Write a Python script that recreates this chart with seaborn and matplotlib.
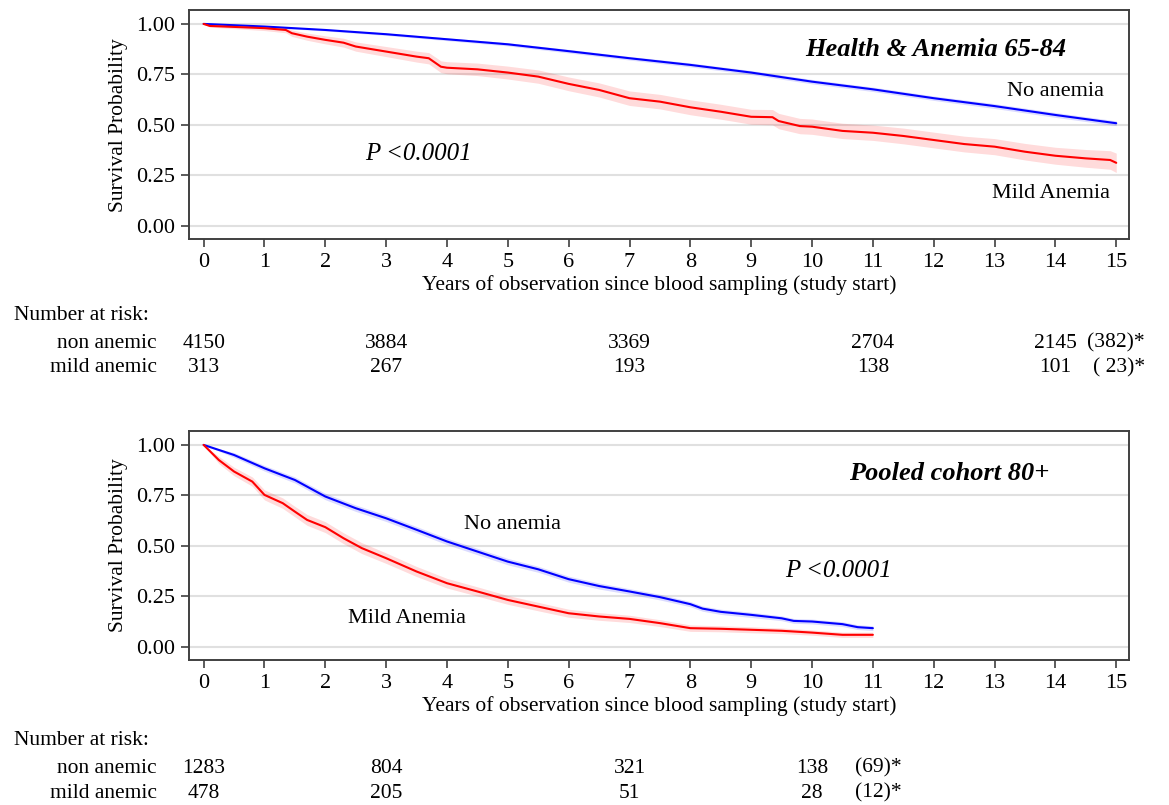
import matplotlib
matplotlib.use("Agg")
import matplotlib.pyplot as plt
import matplotlib.transforms as mtransforms
import numpy as np
import pandas as pd
import seaborn as sns

# ---- Panel A: Health & Anemia 65-84 ----
a_no_t = [0, 1, 2, 3, 4, 5, 6, 7, 8, 9, 10, 11, 12, 13, 14, 15]
a_no_s = [1.0, 0.987, 0.970, 0.949, 0.924, 0.899, 0.865, 0.830, 0.797, 0.759,
          0.714, 0.676, 0.632, 0.593, 0.549, 0.508]
a_no_ci = [0.0, 0.004, 0.005, 0.006, 0.007, 0.008, 0.009, 0.009, 0.010, 0.010,
           0.011, 0.011, 0.011, 0.012, 0.012, 0.012]

a_mild_t = [0, 0.1, 1.0, 1.35, 1.45, 1.7, 2.0, 2.3, 2.5, 3.0, 3.5, 3.7, 3.9, 4.0,
            4.5, 5.0, 5.5, 6.0, 6.5, 7.0, 7.5, 8.0, 8.5, 9.0, 9.35, 9.45, 9.8,
            10.0, 10.5, 11.0, 11.5, 12.0, 12.5, 13.0, 13.5, 14.0, 14.5, 14.9, 15.0]
a_mild_s = [1.0, 0.990, 0.979, 0.970, 0.954, 0.937, 0.921, 0.907, 0.888, 0.863,
            0.838, 0.830, 0.788, 0.783, 0.775, 0.759, 0.739, 0.703, 0.673, 0.632,
            0.615, 0.587, 0.565, 0.540, 0.538, 0.519, 0.494, 0.491, 0.470, 0.461,
            0.445, 0.425, 0.405, 0.392, 0.367, 0.347, 0.334, 0.326, 0.312]
a_mild_ci = [0.0, 0.006, 0.012, 0.014, 0.016, 0.018, 0.020, 0.022, 0.023, 0.025,
             0.027, 0.028, 0.029, 0.030, 0.031, 0.032, 0.033, 0.034, 0.035, 0.036,
             0.036, 0.037, 0.037, 0.037, 0.038, 0.038, 0.038, 0.038, 0.038, 0.038,
             0.039, 0.039, 0.039, 0.040, 0.041, 0.042, 0.044, 0.046, 0.048]

# ---- Panel B: Pooled cohort 80+ ----
b_no_t = [0, 0.5, 1.0, 1.5, 2.0, 2.5, 3.0, 3.5, 4.0, 4.5, 5.0, 5.5, 6.0, 6.5, 7.0,
          7.5, 8.0, 8.2, 8.5, 9.0, 9.5, 9.7, 10.0, 10.5, 10.75, 11.0]
b_no_s = [1.0, 0.950, 0.884, 0.826, 0.744, 0.686, 0.636, 0.579, 0.521, 0.471,
          0.421, 0.383, 0.334, 0.300, 0.273, 0.245, 0.210, 0.188, 0.172, 0.157,
          0.140, 0.127, 0.124, 0.111, 0.096, 0.091]
b_no_ci = [0.0, 0.012, 0.014, 0.015, 0.016, 0.016, 0.016, 0.016, 0.016, 0.016,
           0.016, 0.015, 0.015, 0.015, 0.014, 0.014, 0.013, 0.013, 0.013, 0.013,
           0.012, 0.012, 0.012, 0.012, 0.012, 0.012]

b_mild_t = [0, 0.25, 0.5, 0.8, 1.0, 1.3, 1.5, 1.7, 2.0, 2.3, 2.6, 3.0, 3.5, 4.0,
            4.5, 5.0, 5.5, 6.0, 6.5, 7.0, 7.5, 8.0, 8.5, 9.0, 9.5, 10.0, 10.5, 11.0]
b_mild_s = [1.0, 0.925, 0.868, 0.818, 0.752, 0.711, 0.669, 0.628, 0.592, 0.537,
            0.488, 0.438, 0.372, 0.314, 0.273, 0.231, 0.198, 0.165, 0.149, 0.137,
            0.116, 0.091, 0.088, 0.083, 0.078, 0.069, 0.058, 0.058]
b_mild_ci = [0.0, 0.018, 0.021, 0.023, 0.025, 0.026, 0.026, 0.027, 0.027, 0.027,
             0.027, 0.026, 0.025, 0.024, 0.023, 0.022, 0.021, 0.020, 0.019, 0.018,
             0.017, 0.016, 0.015, 0.015, 0.014, 0.013, 0.013, 0.013]

# ---- Number at risk tables ----
a_risk_years = [0, 3, 7, 11, 14]
a_risk_non = ["4150", "3884", "3369", "2704", "2145"]
a_risk_mild = ["313", "267", "193", "138", "101"]
a_risk_tail = ["(382)*", "( 23)*"]

b_risk_years = [0, 3, 7, 10]
b_risk_non = ["1283", "804", "321", "138"]
b_risk_mild = ["478", "205", "51", "28"]
b_risk_tail = ["(69)*", "(12)*"]

sns.set_style("white")
plt.rcParams["font.family"] = ["Liberation Serif", "DejaVu Serif"]
plt.rcParams["text.color"] = "black"
plt.rcParams["axes.labelcolor"] = "black"
plt.rcParams["xtick.color"] = "black"
plt.rcParams["ytick.color"] = "black"

BLUE = "#0000ff"
RED = "#ff0000"
fig = plt.figure(figsize=(11.69, 8.05), dpi=100)


def km_panel(ax, no_t, no_s, no_ci, mild_t, mild_s, mild_ci):
    for t, s, ci, col in [(no_t, no_s, no_ci, BLUE), (mild_t, mild_s, mild_ci, RED)]:
        s = np.array(s)
        ci = np.array(ci)
        ax.fill_between(t, s - ci, s + ci, color=col, alpha=0.14, linewidth=0)
        df = pd.DataFrame({"t": t, "s": s})
        sns.lineplot(data=df, x="t", y="s", ax=ax, color=col, linewidth=1.5,
                     estimator=None, sort=False)
    ax.set_xlim(-0.24, 15.21)
    ax.set_ylim(-0.067, 1.069)
    ax.set_xticks(range(16))
    ax.set_yticks([0, 0.25, 0.5, 0.75, 1.0])
    ax.set_yticklabels(["0.00", "0.25", "0.50", "0.75", "1.00"])
    ax.yaxis.grid(True, color="#e0e0e0", linewidth=1.5)
    ax.set_axisbelow(True)
    for sp in ax.spines.values():
        sp.set_color("#404040")
        sp.set_linewidth(1.4)
    ax.tick_params(axis="both", direction="out", length=6, width=1.2,
                   color="#404040", labelcolor="black", labelsize=16,
                   bottom=True, left=True, pad=4)
    ax.set_xlabel("Years of observation since blood sampling (study start)",
                  fontsize=15.5, labelpad=2)
    ax.set_ylabel("Survival Probability", fontsize=15.5, labelpad=6)


def risk_table(ax, years, non, mild, tail, tail_x, y0):
    tr = mtransforms.blended_transform_factory(ax.transData, fig.transFigure)
    fs = 15.5
    fig.text(14 / 1169, 1 - y0 / 805, "Number at risk:", fontsize=fs,
             ha="left", va="center")
    fig.text(157 / 1169, 1 - (y0 + 28) / 805, "non anemic", fontsize=fs,
             ha="right", va="center")
    fig.text(157 / 1169, 1 - (y0 + 53) / 805, "mild anemic", fontsize=fs,
             ha="right", va="center")
    for yr, n1, n2 in zip(years, non, mild):
        ax.text(yr, 1 - (y0 + 28) / 805, n1, transform=tr, fontsize=fs,
                ha="center", va="center")
        ax.text(yr, 1 - (y0 + 53) / 805, n2, transform=tr, fontsize=fs,
                ha="center", va="center")
    ax.text(tail_x, 1 - (y0 + 28) / 805, tail[0], transform=tr, fontsize=fs,
            ha="right", va="center")
    ax.text(tail_x, 1 - (y0 + 53) / 805, tail[1], transform=tr, fontsize=fs,
            ha="right", va="center")


ax1 = fig.add_axes([0.1617, 0.7027, 0.8041, 0.2849])
km_panel(ax1, a_no_t, a_no_s, a_no_ci, a_mild_t, a_mild_s, a_mild_ci)
ax1.text(12.03, 0.871, "Health & Anemia 65-84", fontsize=19, fontweight="bold",
         style="italic", ha="center", va="center")
ax1.text(14.8, 0.664, "No anemia", fontsize=16, ha="right", va="center")
ax1.text(14.9, 0.161, "Mild Anemia", fontsize=16, ha="right", va="center")
ax1.text(2.66, 0.355, "P <0.0001", fontsize=18, style="italic", ha="left", va="center")
risk_table(ax1, a_risk_years, a_risk_non, a_risk_mild, a_risk_tail, 15.47, 315)

ax2 = fig.add_axes([0.1617, 0.1801, 0.8041, 0.2845])
km_panel(ax2, b_no_t, b_no_s, b_no_ci, b_mild_t, b_mild_s, b_mild_ci)
ax2.text(12.25, 0.86, "Pooled cohort 80+", fontsize=19, fontweight="bold",
         style="italic", ha="center", va="center")
ax2.text(4.28, 0.603, "No anemia", fontsize=16, ha="left", va="center")
ax2.text(2.365, 0.141, "Mild Anemia", fontsize=16, ha="left", va="center")
ax2.text(9.55, 0.377, "P <0.0001", fontsize=18, style="italic", ha="left", va="center")
risk_table(ax2, b_risk_years, b_risk_non, b_risk_mild, b_risk_tail, 11.48, 740)

fig.savefig("out.png", dpi=100)
plt.close(fig)
